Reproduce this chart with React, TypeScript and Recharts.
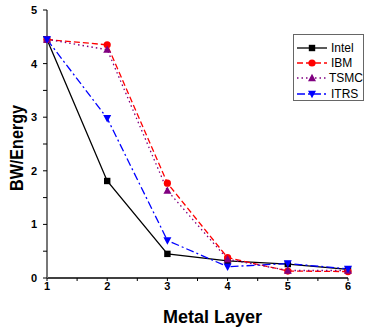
import { LineChart, Line, XAxis, YAxis, Legend } from 'recharts';

const layers = [1, 2, 3, 4, 5, 6];
const intel = [4.45, 1.81, 0.45, 0.32, 0.26, 0.16];
const ibm = [4.45, 4.35, 1.77, 0.38, 0.13, 0.12];
const tsmc = [4.45, 4.26, 1.63, 0.35, 0.14, 0.14];
const itrs = [4.45, 2.98, 0.7, 0.21, 0.27, 0.17];

const xTicks = [1, 1.5, 2, 2.5, 3, 3.5, 4, 4.5, 5, 5.5, 6];
const yTicks = [0, 0.5, 1, 1.5, 2, 2.5, 3, 3.5, 4, 4.5, 5];

const data = layers.map((x, i) => ({
  layer: x,
  Intel: intel[i],
  IBM: ibm[i],
  TSMC: tsmc[i],
  ITRS: itrs[i],
}));

type Shape = 'square' | 'circle' | 'up' | 'down';

const series: { key: string; color: string; dash?: string; shape: Shape }[] = [
  { key: 'Intel', color: '#000000', shape: 'square' },
  { key: 'IBM', color: '#ff0000', dash: '6 3', shape: 'circle' },
  { key: 'TSMC', color: '#800080', dash: '1.5 3', shape: 'up' },
  { key: 'ITRS', color: '#0000ff', dash: '8 3 2 3', shape: 'down' },
];

const font = '"Liberation Sans", Arial, sans-serif';

function Marker({ cx, cy, shape, color }: { cx: number; cy: number; shape: Shape; color: string }) {
  if (shape === 'square') return <rect x={cx - 3.2} y={cy - 3.2} width={6.4} height={6.4} fill={color} />;
  if (shape === 'circle') return <circle cx={cx} cy={cy} r={3.6} fill={color} />;
  if (shape === 'up') return <polygon points={`${cx},${cy - 4.2} ${cx + 4},${cy + 3.2} ${cx - 4},${cy + 3.2}`} fill={color} />;
  return <polygon points={`${cx},${cy + 4.2} ${cx + 4},${cy - 3.2} ${cx - 4},${cy - 3.2}`} fill={color} />;
}

function MinorTick(props: any) {
  const { x, y, payload, axis } = props;
  const v = payload.value;
  if (!Number.isInteger(v)) return null;
  if (axis === 'x') {
    return (
      <text x={x} y={y} dy={9} textAnchor="middle" fontFamily={font} fontWeight="bold" fontSize={11} fill="#000">
        {v}
      </text>
    );
  }
  return (
    <text x={x} y={y} dy={4} textAnchor="end" fontFamily={font} fontWeight="bold" fontSize={11} fill="#000">
      {v}
    </text>
  );
}

function LegendBox() {
  return (
    <div
      style={{
        width: 71,
        height: 67,
        border: '1.5px solid #666',
        background: '#fff',
        paddingTop: 5,
        boxSizing: 'border-box',
        fontFamily: font,
        fontSize: 12,
      }}
    >
      {series.map(s => (
        <div key={s.key} style={{ display: 'flex', alignItems: 'center', height: 15.4 }}>
          <svg width={34} height={12} style={{ marginLeft: 2 }}>
            <line x1={1} y1={6} x2={31} y2={6} stroke={s.color} strokeWidth={1.3} strokeDasharray={s.dash} />
            <Marker cx={16} cy={6} shape={s.shape} color={s.color} />
          </svg>
          <span style={{ marginLeft: 1, color: '#000' }}>{s.key}</span>
        </div>
      ))}
    </div>
  );
}

export default function App() {
  return (
    <div style={{ position: 'absolute', left: 0, top: 0, background: '#fff' }}>
      <LineChart width={380} height={332} data={data} margin={{ top: 10, right: 32, bottom: 8, left: 0 }}>
        <XAxis
          dataKey="layer"
          type="number"
          domain={[1, 6]}
          ticks={xTicks}
          interval={0}
          height={46}
          tickSize={3}
          tickMargin={0}
          axisLine={{ stroke: '#000', strokeWidth: 1.5 }}
          tickLine={{ stroke: '#000' }}
          tick={(p: any) => <MinorTick {...p} axis="x" />}
          label={(p: any) => {
            const vb = p.viewBox;
            return (
              <text
                x={vb.x + vb.width / 2 + 15}
                y={vb.y + 45}
                textAnchor="middle"
                fontFamily={font}
                fontWeight="bold"
                fontSize={18}
                fill="#000"
              >
                Metal Layer
              </text>
            );
          }}
        />
        <YAxis
          type="number"
          domain={[0, 5]}
          ticks={yTicks}
          interval={0}
          width={47}
          tickSize={4}
          tickMargin={6}
          axisLine={{ stroke: '#777', strokeWidth: 2 }}
          tickLine={{ stroke: '#000' }}
          tick={(p: any) => <MinorTick {...p} axis="y" />}
          label={(p: any) => {
            const vb = p.viewBox;
            const cx = 23;
            const cy = vb.y + vb.height / 2 + 4;
            return (
              <text
                x={cx}
                y={cy}
                transform={`rotate(-90 ${cx} ${cy})`}
                textAnchor="middle"
                fontFamily={font}
                fontWeight="bold"
                fontSize={18}
                textLength={86}
                lengthAdjust="spacingAndGlyphs"
                fill="#000"
              >
                BW/Energy
              </text>
            );
          }}
        />
        <Legend
          layout="horizontal"
          verticalAlign="middle"
          align="center"
          content={() => <LegendBox />}
          wrapperStyle={{ left: 293, top: 34, width: 'auto', height: 'auto' }}
        />
        {series.map(s => (
          <Line
            key={s.key}
            dataKey={s.key}
            stroke={s.color}
            strokeWidth={1.3}
            strokeDasharray={s.dash}
            isAnimationActive={false}
            legendType="none"
            dot={(p: any) => <Marker key={`${s.key}-${p.index}`} cx={p.cx} cy={p.cy} shape={s.shape} color={s.color} />}
            activeDot={false}
          />
        ))}
      </LineChart>
    </div>
  );
}
